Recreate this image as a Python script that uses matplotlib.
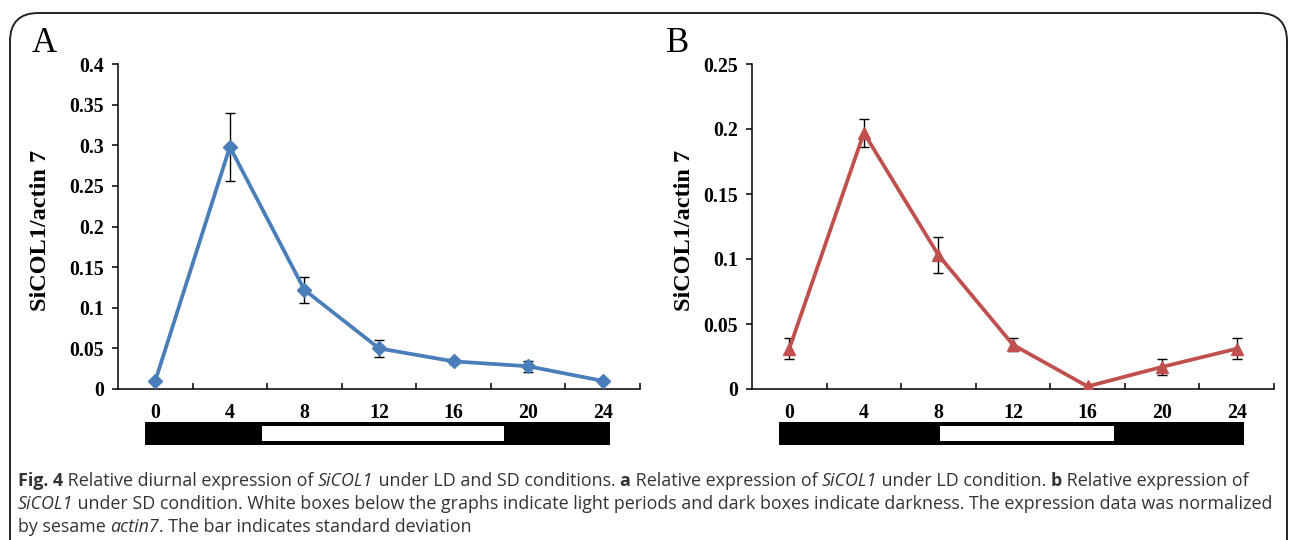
"""SiCOL1 diurnal expression figure (LD / SD)."""

import matplotlib
matplotlib.use("Agg")
import matplotlib.pyplot as plt
from matplotlib.patches import FancyBboxPatch, Rectangle
from matplotlib.ticker import FixedLocator, FuncFormatter

# data
hours = [0, 4, 8, 12, 16, 20, 24]
ld_mean = [0.010, 0.298, 0.122, 0.050, 0.034, 0.028, 0.010]
ld_sd = [0.002, 0.042, 0.016, 0.010, 0.003, 0.007, 0.002]
sd_mean = [0.031, 0.197, 0.103, 0.034, 0.002, 0.017, 0.031]
sd_sd = [0.008, 0.011, 0.014, 0.005, 0.001, 0.006, 0.008]
ld_light = (5.7, 18.7)  # light period on the bar (h)
sd_light = (8.1, 17.4)
ld_yticks = [0, 0.05, 0.1, 0.15, 0.2, 0.25, 0.3, 0.35, 0.4]
sd_yticks = [0, 0.05, 0.1, 0.15, 0.2, 0.25]

W, H = 1290, 540
SERIF = "Liberation Serif"
CAP_FONT = "Open Sans"


def px(x0, y0, x1, y1):
    """pixel box (top-left origin) -> figure fraction rect"""
    return [x0 / W, 1 - y1 / H, (x1 - x0) / W, (y1 - y0) / H]


def panel(fig, x0, x1, mean, sd, yticks, color, marker, msize, light, letter, ylab_x):
    ax = fig.add_axes(px(x0, 64, x1, 389))
    ax.errorbar(hours, mean, yerr=sd, color=color, lw=2.7, marker=marker,
                ms=msize, mec=color, mfc=color, ecolor="black", elinewidth=1.0,
                capsize=3.5, capthick=1.0, zorder=3)
    ax.set_xlim(-2, 26)
    ax.set_ylim(yticks[0], yticks[-1])
    for s in ("top", "right"):
        ax.spines[s].set_visible(False)
    for s in ("left", "bottom"):
        ax.spines[s].set_linewidth(1.1)
    ax.set_xticks(hours)
    ax.set_xticklabels([str(h) for h in hours])
    ax.xaxis.set_minor_locator(FixedLocator([h + 2 for h in hours]))
    ax.tick_params(axis="x", which="major", length=0, pad=10)
    ax.tick_params(axis="x", which="minor", direction="in", length=4, width=1.1)
    ax.set_yticks(yticks)
    ax.yaxis.set_major_formatter(FuncFormatter(lambda v, p: f"{v:g}"))
    ax.tick_params(axis="y", direction="out", length=4, width=1.1, pad=6)
    for lab in ax.get_xticklabels() + ax.get_yticklabels():
        lab.set_fontfamily(SERIF)
        lab.set_fontweight("bold")
        lab.set_fontsize(14.3)
    fig.text(ylab_x / W, 1 - 230 / H, "SiCOL1/actin 7", rotation=90, ha="center",
             va="center", family=SERIF, weight="bold", fontsize=17.5)
    fig.text((x0 - 86) / W, 1 - 43 / H, letter, ha="left", va="center",
             family=SERIF, fontsize=25)

    # light / dark bar
    bx = fig.add_axes(px(x0, 422, x1, 445))
    bx.set_xlim(-2, 26)
    bx.set_ylim(0, 1)
    bx.axis("off")
    bx.add_patch(Rectangle((-0.55, 0), 24.95, 1, color="black", lw=0))
    bx.add_patch(Rectangle((light[0], 0.17), light[1] - light[0], 0.66,
                           color="white", lw=0))
    return ax


fig = plt.figure(figsize=(W / 100, H / 100), dpi=100)

border = FancyBboxPatch((10 / W, -0.2), 1277 / W, 1 - 13 / H + 0.2,
                        boxstyle="round,pad=0,rounding_size=0.022",
                        transform=fig.transFigure, fill=False,
                        ec="#222222", lw=1.4, mutation_aspect=W / H)
fig.patches.append(border)

panel(fig, 118, 640, ld_mean, ld_sd, ld_yticks, "#4a7ebb", "D", 7.5,
      ld_light, "A", 41)
panel(fig, 752, 1274, sd_mean, sd_sd, sd_yticks, "#c0504d", "^", 8,
      sd_light, "B", 684)

# caption, drawn piece by piece so bold / italic runs line up
caption = [
    [("Fig. 4", "bold"), (" Relative diurnal expression of ", "normal"), ("SiCOL1", "italic"),
     (" under LD and SD conditions. ", "normal"), ("a", "bold"),
     (" Relative expression of ", "normal"), ("SiCOL1", "italic"),
     (" under LD condition. ", "normal"), ("b", "bold"),
     (" Relative expression of", "normal")],
    [("SiCOL1", "italic"),
     (" under SD condition. White boxes below the graphs indicate light periods and dark "
      "boxes indicate darkness. The expression data was normalized", "normal")],
    [("by sesame ", "normal"), ("actin7", "italic"),
     (". The bar indicates standard deviation", "normal")],
]
fig.canvas.draw()
renderer = fig.canvas.get_renderer()
line_y = [481, 504, 527]
for parts, yy in zip(caption, line_y):
    x = 18
    for txt, style in parts:
        kw = dict(family=CAP_FONT, fontsize=12.9, color="#333333", va="center", ha="left")
        if style == "bold":
            kw["weight"] = "bold"
        elif style == "italic":
            kw["style"] = "italic"
        t = fig.text(x / W, 1 - yy / H, txt, **kw)
        x += t.get_window_extent(renderer).width

fig.savefig("out.png", dpi=100)
